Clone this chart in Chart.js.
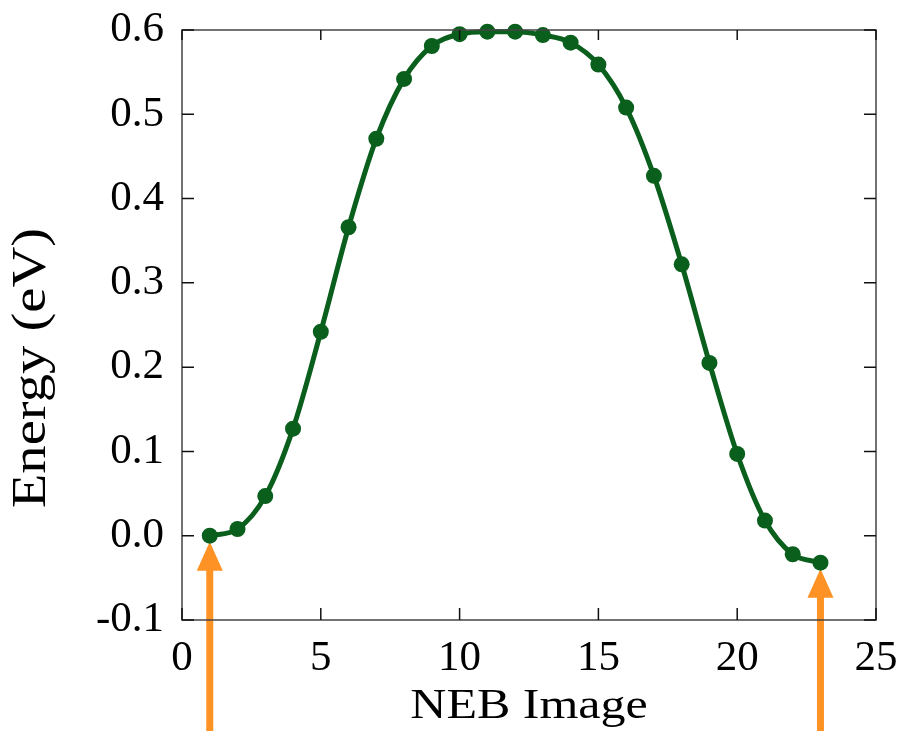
<!DOCTYPE html>
<html>
<head>
<meta charset="utf-8">
<script src="https://cdn.jsdelivr.net/npm/chart.js@4/dist/chart.umd.min.js"></script>
<style>
  html, body { margin: 0; padding: 0; background: #fff; }
  #wrap { width: 904px; height: 731px; }
</style>
</head>
<body>
<div id="wrap"><canvas id="nebChart" width="904" height="731"></canvas></div>
<script>
// NEB images and energies (eV)
const images = [1, 2, 3, 4, 5, 6, 7, 8, 9, 10, 11, 12, 13, 14, 15, 16, 17, 18, 19, 20, 21, 22, 23]
const energies = [0.000, 0.008, 0.047, 0.127, 0.242, 0.366, 0.471, 0.542, 0.581, 0.595, 0.598, 0.598,
  0.594, 0.585, 0.559, 0.508, 0.427, 0.322, 0.205, 0.097, 0.018, -0.022, -0.032]

// arrows point at the initial and final states
const arrowImages = [1, 23]
const arrowTargets = [0.000, -0.032]

const xTicks = [0, 5, 10, 15, 20, 25]
const yTicks = [-0.1, 0.0, 0.1, 0.2, 0.3, 0.4, 0.5, 0.6]

const xTitle = 'NEB Image'
const yTitle = 'Energy (eV)'

const serif = '"Liberation Serif", "DejaVu Serif", serif'
const green = '#0a5f1c'
const orange = '#ff9224'

// inward ticks on all four sides plus a frame
const frameTicks = {
  id: 'frameTicks',
  afterDraw(chart) {
    const { ctx, chartArea: a, scales: { x, y } } = chart
    const len = 12
    ctx.save()
    ctx.strokeStyle = '#444'
    ctx.lineWidth = 1.5
    ctx.strokeRect(a.left, a.top, a.right - a.left, a.bottom - a.top)
    ctx.strokeStyle = '#111'
    ctx.beginPath()
    xTicks.forEach(v => {
      const px = x.getPixelForValue(v)
      ctx.moveTo(px, a.bottom); ctx.lineTo(px, a.bottom - len)
      ctx.moveTo(px, a.top); ctx.lineTo(px, a.top + len - 2)
    })
    yTicks.forEach(v => {
      const py = y.getPixelForValue(v)
      ctx.moveTo(a.left, py); ctx.lineTo(a.left + len, py)
      ctx.moveTo(a.right, py); ctx.lineTo(a.right - len, py)
    })
    ctx.stroke()
    ctx.restore()
  }
}

// axis titles, drawn a little wide like the original
const axisTitles = {
  id: 'axisTitles',
  afterDraw(chart) {
    const { ctx, chartArea: a } = chart
    ctx.save()
    ctx.fillStyle = '#000'
    ctx.textBaseline = 'alphabetic'
    ctx.textAlign = 'center'

    ctx.font = '42px ' + serif
    ctx.save()
    ctx.translate((a.left + a.right) / 2, 718)
    ctx.scale(1.19, 1)
    ctx.fillText(xTitle, 0, 0)
    ctx.restore()

    ctx.font = '48px ' + serif
    ctx.save()
    ctx.translate(45, (a.top + a.bottom) / 2 + 43)
    ctx.rotate(-Math.PI / 2)
    ctx.scale(1.18, 1)
    ctx.fillText(yTitle, 0, 0)
    ctx.restore()
    ctx.restore()
  }
}

// orange arrows from the bottom of the picture up to the end points
const arrows = {
  id: 'arrows',
  beforeDatasetsDraw(chart) {
    const { ctx, scales: { x, y } } = chart
    ctx.save()
    ctx.fillStyle = orange
    ctx.strokeStyle = orange
    ctx.lineWidth = 7
    arrowImages.forEach((img, i) => {
      const px = x.getPixelForValue(img)
      const tip = y.getPixelForValue(arrowTargets[i]) + 6
      const headH = 29, headW = 13
      ctx.beginPath()
      ctx.moveTo(px, chart.height)
      ctx.lineTo(px, tip + headH - 1)
      ctx.stroke()
      ctx.beginPath()
      ctx.moveTo(px, tip)
      ctx.lineTo(px + headW, tip + headH)
      ctx.lineTo(px - headW, tip + headH)
      ctx.closePath()
      ctx.fill()
    })
    ctx.restore()
  }
}

const ctx = document.getElementById('nebChart').getContext('2d')
const nebChart = new Chart(ctx, {
  type: 'line',
  data: {
    datasets: [{
      data: images.map((img, i) => ({ x: img, y: energies[i] })),
      borderColor: green,
      backgroundColor: green,
      borderWidth: 5,
      pointRadius: 8,
      pointHoverRadius: 8,
      pointBorderWidth: 0,
      cubicInterpolationMode: 'monotone',
      clip: false
    }]
  },
  options: {
    responsive: false,
    animation: false,
    layout: { padding: { top: 30, right: 28, left: 0, bottom: 0 } },
    plugins: {
      legend: { display: false },
      tooltip: { enabled: false }
    },
    scales: {
      x: {
        type: 'linear',
        min: 0,
        max: 25,
        afterFit: s => { s.height = 111; s.paddingLeft = 0; s.paddingRight = 0 },
        afterBuildTicks: s => { s.ticks = xTicks.map(v => ({ value: v })) },
        grid: { display: false, drawTicks: false },
        border: { display: false },
        ticks: {
          color: '#000',
          padding: 17,
          maxRotation: 0,
          font: { family: serif, size: 43, lineHeight: 1 }
        }
      },
      y: {
        min: -0.1,
        max: 0.6,
        afterFit: s => { s.width = 182; s.paddingTop = 0; s.paddingBottom = 0 },
        afterBuildTicks: s => { s.ticks = yTicks.map(v => ({ value: v })) },
        grid: { display: false, drawTicks: false },
        border: { display: false },
        ticks: {
          color: '#000',
          padding: 18,
          font: { family: serif, size: 43, lineHeight: 1 },
          callback: v => v.toFixed(1)
        }
      }
    }
  },
  plugins: [arrows, frameTicks, axisTitles]
})
</script>
</body>
</html>
